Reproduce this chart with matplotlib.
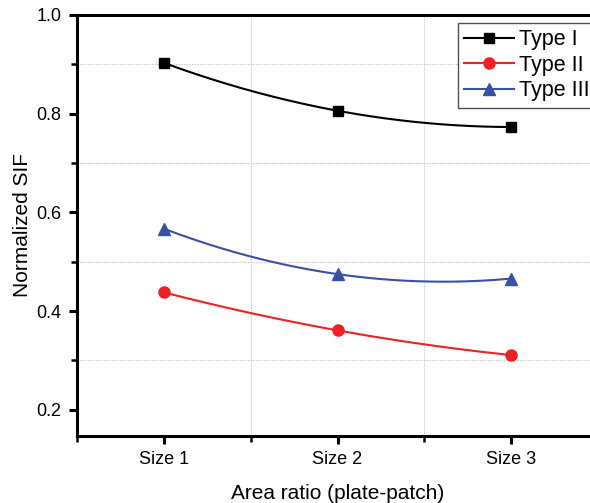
import numpy as np
import matplotlib.pyplot as plt
from matplotlib.ticker import MultipleLocator, FixedLocator

plt.rcParams['font.family'] = ['Liberation Sans', 'DejaVu Sans']

sizes = ["Size 1", "Size 2", "Size 3"]
type_1 = [0.903, 0.806, 0.773]
type_2 = [0.438, 0.361, 0.311]
type_3 = [0.567, 0.475, 0.466]

x = np.arange(1, len(sizes) + 1)
xs = np.linspace(1, 3, 200)

fig = plt.figure(figsize=(5.9, 5.03), dpi=100)
ax = fig.add_axes([0.1305, 0.1332, 0.8831, 0.8370])

series = [
    (type_1, "black", "s", 7, "Type I"),
    (type_2, "#ee2024", "o", 8, "Type II"),
    (type_3, "#3951a3", "^", 8.5, "Type III"),
]
for vals, color, marker, ms, label in series:
    # smooth curve through the three points
    coef = np.polyfit(x, vals, 2)
    ax.plot(xs, np.polyval(coef, xs), color=color, linewidth=1.5, zorder=3)
    ax.plot(x, vals, color=color, linestyle="none", marker=marker, markersize=ms, zorder=4)
    ax.plot([], [], color=color, marker=marker, markersize=ms, linewidth=1.5, label=label)

ax.set_xlim(0.5, 3.5)
ax.set_ylim(0.147, 1.0)
ax.set_xticks(x)
ax.set_xticklabels(sizes)
ax.xaxis.set_minor_locator(FixedLocator([0.5, 1.5, 2.5, 3.5]))
ax.yaxis.set_major_locator(MultipleLocator(0.2))
ax.yaxis.set_minor_locator(MultipleLocator(0.1))
ax.grid(which="minor", color="#c4c4c4", linestyle=(0, (1.2, 1.2)), linewidth=0.8)

for sp in ax.spines.values():
    sp.set_linewidth(2.2)
ax.tick_params(which="major", direction="out", length=6, width=2.2, labelsize=13, pad=5)
ax.tick_params(which="minor", direction="out", length=4, width=1.8)

ax.set_xlabel("Area ratio (plate-patch)", fontsize=15, labelpad=11)
ax.set_ylabel("Normalized SIF", fontsize=15, labelpad=3)

leg = fig.legend(loc="upper left", bbox_to_anchor=(458 / 590, 1 - 23 / 503), fontsize=15.5,
                 handlelength=2.3, handletextpad=0.25, borderpad=0.3, borderaxespad=0,
                 labelspacing=0.2, fancybox=False, framealpha=1)
leg.get_frame().set_edgecolor("#505050")
leg.get_frame().set_linewidth(1.0)

fig.savefig("out.png", dpi=100)
